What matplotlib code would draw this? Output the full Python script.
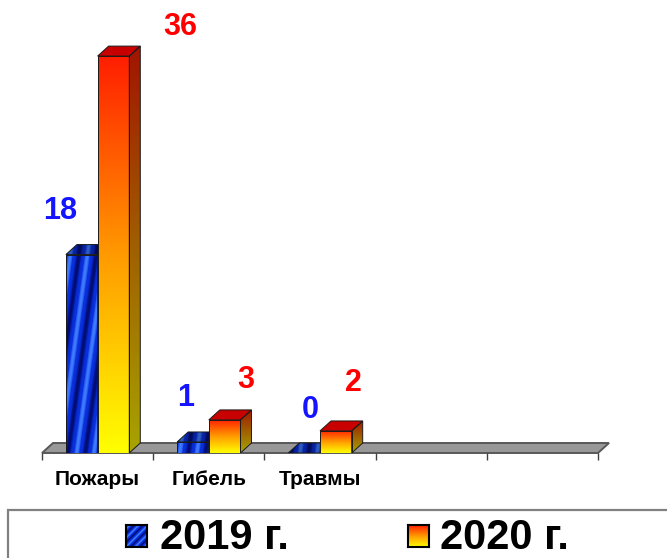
import numpy as np
import matplotlib.pyplot as plt
from matplotlib.patches import Polygon, Rectangle
from matplotlib.colors import LinearSegmentedColormap, to_rgb
from matplotlib import font_manager

# data
categories = ["Пожары", "Гибель", "Травмы", "", ""]
values_2019 = [18, 1, 0]
values_2020 = [36, 3, 2]
series_names = ["2019 г.", "2020 г."]

# label nudges (pixels) from the top centre of each bar - the original places them unevenly
shift_2019 = [(-22, 44), (-7, 44), (6, 43)]
shift_2020 = [(67, 29), (21, 40), (18, 48)]

W, H, DPI = 667, 558, 100
fig = plt.figure(figsize=(W / DPI, H / DPI), dpi=DPI)
ax = fig.add_axes([42 / W, (H - 453) / H, 556 / W, 441 / H])
ncat = len(categories)
ymax = 40

px_x = 556 / ncat          # pixels per category
px_y = 441 / ymax          # pixels per unit
ddx, ddy = 11 / px_x, 10 / px_y   # fake 3D depth
bar_w = 0.285

# narrow font for legend if available
names = {f.name for f in font_manager.fontManager.ttflist}
narrow = "Liberation Sans Narrow" if "Liberation Sans Narrow" in names else "Liberation Sans"

blue_cmap = LinearSegmentedColormap.from_list(
    "bl", ["#000c70", "#0528cc", "#0a30dc", "#0a30dc", "#3f7cff"])


def blue_texture(dark=1.0, angle=82, period=17):
    nx, ny = int((ncat + 1) * px_x), int(ymax * px_y)
    X, Y = np.meshgrid(np.arange(nx), np.arange(ny))
    a = np.deg2rad(angle)
    ph = (X * np.sin(a) - Y * np.cos(a)) / period
    t = 0.5 + 0.5 * np.cos(2 * np.pi * ph)
    img = blue_cmap(t)[..., :3]
    return np.clip(img * dark, 0, 1)


tex_front = blue_texture(1.0)
tex_side = blue_texture(0.5)
tex_top = blue_texture(0.75)
tex_ext = (0, ncat + 1, 0, ymax)

orange_front = LinearSegmentedColormap.from_list("of", ["#ffff00", "#ff9a00", "#ff1e00"])
orange_side = LinearSegmentedColormap.from_list("os", ["#a8a400", "#a06000", "#a01400"])
grad = np.linspace(0, 1, 256).reshape(-1, 1)


def clipped(img, extent, verts, z, cmap=None):
    poly = Polygon(verts, closed=True, transform=ax.transData, fc="none", ec="none")
    ax.add_patch(poly)
    im = ax.imshow(img, extent=extent, origin="lower", aspect="auto", cmap=cmap,
                   interpolation="bilinear", zorder=z, vmin=0, vmax=1)
    im.set_clip_path(poly)
    ax.add_patch(Polygon(verts, closed=True, fc="none", ec="#1a1a1a", lw=0.7, zorder=z + 0.1))


def bar(x0, h, kind, z):
    x1 = x0 + bar_w
    front = [(x0, 0), (x1, 0), (x1, h), (x0, h)]
    side = [(x1, 0), (x1 + ddx, ddy), (x1 + ddx, h + ddy), (x1, h)]
    top = [(x0, h), (x1, h), (x1 + ddx, h + ddy), (x0 + ddx, h + ddy)]
    if kind == "blue":
        clipped(tex_side, tex_ext, side, z)
        clipped(tex_top, tex_ext, top, z)
        if h > 0:
            clipped(tex_front, tex_ext, front, z)
    else:
        clipped(grad, (x1, x1 + ddx, 0, h + ddy), side, z, cmap=orange_side)
        ax.add_patch(Polygon(top, closed=True, fc="#c80000", ec="#1a1a1a", lw=0.7, zorder=z))
        clipped(grad, (x0, x1, 0, h), front, z, cmap=orange_front)


# floor
ax.add_patch(Polygon([(0, 0), (ncat, 0), (ncat + ddx, ddy), (ddx, ddy)], closed=True,
                     fc="#989898", ec="#585858", lw=1.4, zorder=1, clip_on=False))

for i, (v1, v2) in enumerate(zip(values_2019, values_2020)):
    xb = i + 0.5 - bar_w
    xo = i + 0.5
    bar(xb, v1, "blue", 2 + i)
    bar(xo, v2, "orange", 2.5 + i)
    ax.annotate(str(v1), xy=(xb + bar_w / 2, v1), xytext=shift_2019[i], textcoords="offset pixels",
                ha="center", va="center", fontsize=22, fontweight="bold", color="#1414ff",
                family="Liberation Sans", annotation_clip=False, zorder=20)
    ax.annotate(str(v2), xy=(xo + bar_w / 2, v2), xytext=shift_2020[i], textcoords="offset pixels",
                ha="center", va="center", fontsize=22, fontweight="bold", color="#ff0000",
                family="Liberation Sans", annotation_clip=False, zorder=20)

ax.set_xlim(0, ncat)
ax.set_ylim(0, ymax)
for s in ax.spines.values():
    s.set_visible(False)
ax.patch.set_visible(False)
ax.set_yticks([])
ax.set_xticks(np.arange(ncat + 1), [""] * (ncat + 1))
ax.set_xticks(np.arange(ncat) + 0.5, categories, minor=True)
ax.tick_params(axis="x", which="major", length=5, width=1, color="#404040", direction="out")
ax.tick_params(axis="x", which="minor", length=0, pad=12)
for lab in ax.get_xticklabels(minor=True):
    lab.set_fontfamily("Liberation Sans")
    lab.set_fontweight("bold")
    lab.set_fontsize(15)

# legend box (runs off the right and bottom edge as in the original)
fig.patches.append(Rectangle((8 / W, -0.05), 1.0, (H - 510) / H + 0.05, transform=fig.transFigure,
                             fill=False, ec="#808080", lw=1.6))

sq1 = fig.add_axes([126 / W, (H - 547) / H, 21 / W, 22 / H])
Xs, Ys = np.meshgrid(np.arange(21), np.arange(22))
t = 0.5 + 0.5 * np.cos(2 * np.pi * (Xs - Ys) / 9)
sq1.imshow(blue_cmap(t), origin="lower", aspect="auto", interpolation="bilinear")
sq2 = fig.add_axes([408 / W, (H - 547) / H, 21 / W, 22 / H])
sq2.imshow(grad, origin="lower", aspect="auto", cmap=orange_front)
for s in (sq1, sq2):
    s.set_xticks([])
    s.set_yticks([])
    for sp in s.spines.values():
        sp.set_linewidth(1.5)
        sp.set_color("black")

fig.text(160 / W, (H - 549) / H, series_names[0], fontsize=30, fontweight="bold",
         family=narrow, va="baseline", ha="left")
fig.text(440 / W, (H - 549) / H, series_names[1], fontsize=30, fontweight="bold",
         family=narrow, va="baseline", ha="left")

fig.savefig("out.png", dpi=DPI)
